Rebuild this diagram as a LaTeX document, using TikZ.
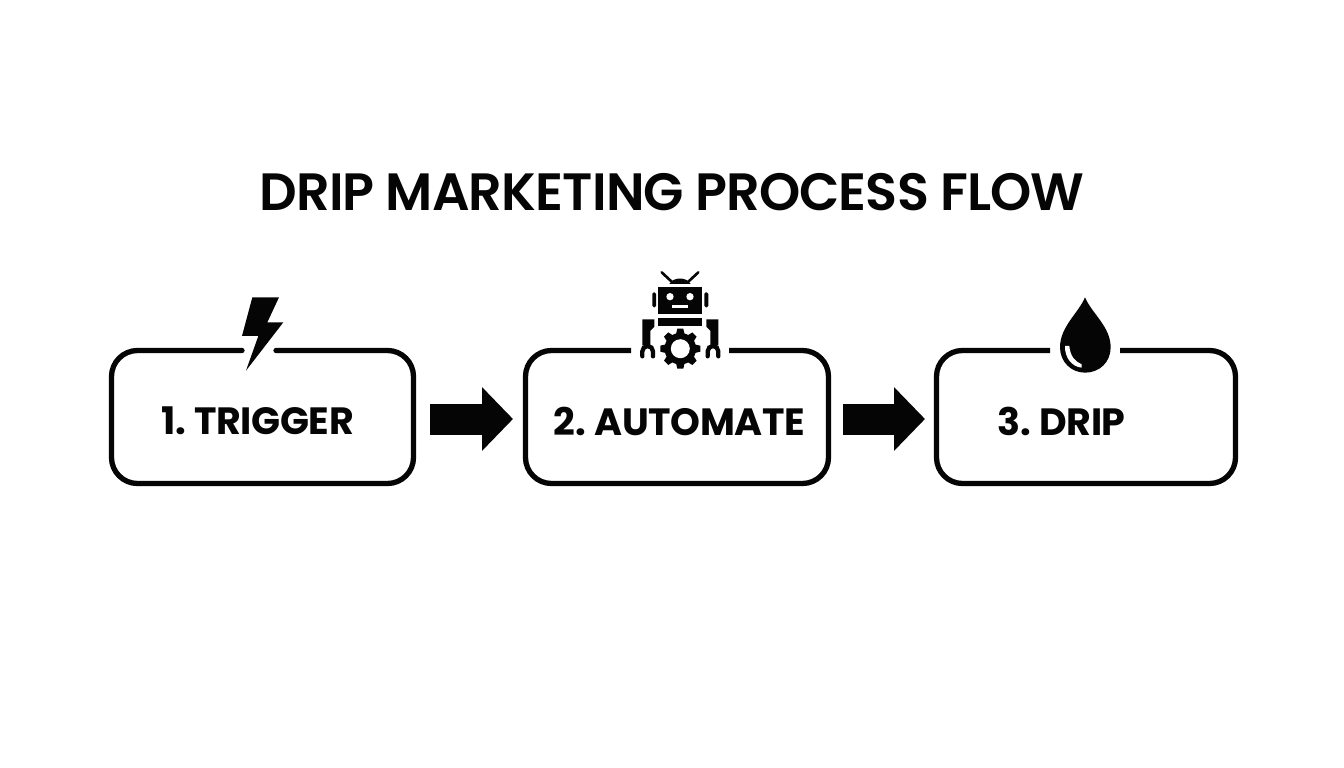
\documentclass[tikz,border=0pt]{standalone}
\usepackage{fontspec}
\setmainfont{Poppins}
\newfontfamily\titlefont{Poppins SemiBold}[LetterSpace=-1.6,WordSpace=0.95]
\newfontfamily\labelfont{Poppins Bold}[LetterSpace=-0.8,WordSpace=0.75]
\usetikzlibrary{arrows.meta}
\definecolor{ink}{HTML}{050505}
\newcommand{\robotarm}{%
  \fill[ic] (22,22)--(58,22)--(58,44)--(46,56)--(46,100)--(28,100)--(22,100)--cycle;
  \draw[ink,line width=4.3,line cap=round] (22,133) -- (22,118) arc[start angle=180,end angle=360,radius=16] -- (54,133);
}
\tikzset{
  frame/.style={draw=ink,line width=5.3,rounded corners=26,line join=round},
  boxnode/.style={minimum width=307,minimum height=138,inner sep=0,outer sep=0},
  label/.style={text=ink,font=\fontsize{38}{38}\selectfont\labelfont,inner sep=0,anchor=center},
  title/.style={text=ink,font=\fontsize{52.5}{54}\selectfont\titlefont,inner sep=0,anchor=center},
  flow/.style={draw=ink,line width=31,-{Triangle[length=31,width=62]}},
  ic/.style={fill=ink,draw=none},
  hole/.style={fill=white,draw=none},
}
\begin{document}
\begin{tikzpicture}[x=1pt,y=-1pt]
\useasboundingbox (0,0) rectangle (1344,768);
\fill[white] (0,0) rectangle (1344,768);
\node[title] (head) at (672,192) {DRIP MARKETING PROCESS FLOW};
% boxes
\node[boxnode] (b1) at (262.5,417) {};
\node[boxnode] (b2) at (677,417) {};
\node[boxnode,minimum width=304] (b3) at (1086,417) {};
\draw[frame,line cap=round] (276,350.5) -- (413.5,350.5) -- (413.5,483.5) -- (111.5,483.5) -- (111.5,350.5) -- (242,350.5);
\draw[frame] (729,350.5) -- (828.5,350.5) -- (828.5,483.5) -- (525.5,483.5) -- (525.5,350.5) -- (631,350.5);
\draw[frame] (1120,350.5) -- (1235.5,350.5) -- (1235.5,483.5) -- (936.5,483.5) -- (936.5,350.5) -- (1050,350.5);
% labels
\node[label] (t1) at (257.5,421) {1. TRIGGER};
\node[label] (t2) at (679.5,421) {2. AUTOMATE};
\node[label] (t3) at (1061.5,421) {3. DRIP};
% connectors
\coordinate (a1s) at (430,419);
\coordinate (a1e) at (513,419);
\coordinate (a2s) at (843,419);
\coordinate (a2e) at (925,419);
\draw[flow] (a1s) -- (a1e);
\draw[flow] (a2s) -- (a2e);
% bolt
\begin{scope}[shift={(210,285)},x=0.3333pt,y=-0.3333pt]
\fill[ic] (127,37)--(207,37)--(172,112)--(220,112)--(108,257)--(145,153)--(96,153)--cycle;
\end{scope}
% robot
\begin{scope}[shift={(620,260)},x=0.3333pt,y=-0.3333pt]
\draw[ink,line width=2.6,line cap=round] (125,37)--(155,65) (235,37)--(205,65);
\fill[ic] (148,72) .. controls (160,50) and (200,50) .. (212,72) -- cycle;
\fill[ic] (115,80) rectangle (245,163);
\fill[hole] (150,110) circle (11) (210,110) circle (11);
\fill[hole] (157,136) rectangle (203,145);
\fill[ic,rounded corners=1.5] (97,97) rectangle (108,142);
\fill[ic,rounded corners=1.5] (253,97) rectangle (265,142);
\fill[ic] (113,175) rectangle (247,198);
\end{scope}
% arms
\begin{scope}[shift={(635,312)},x=0.3333pt,y=-0.3333pt]
\robotarm
\begin{scope}[shift={(272,0)},xscale=-1]
\robotarm
\end{scope}
\end{scope}
% gear
\begin{scope}[shift={(680.3,348.7)}]
\foreach \a in {0,45,...,315}{
 \fill[ic,rotate=\a] (-4.4,-14)--(-3,-20)--(3,-20)--(4.4,-14)--cycle;
}
\fill[ic] (0,0) circle (15.8);
\fill[hole] (0,0) circle (9.5);
\end{scope}
% drop
\begin{scope}[shift={(1040,285)},x=0.3333pt,y=-0.3333pt]
\fill[ic] (135,37) .. controls (115,85) and (60,125) .. (60,187) .. controls (60,232) and (95,263) .. (135,263) .. controls (178,263) and (212,232) .. (212,187) .. controls (212,125) and (155,85) .. (135,37) -- cycle;
\fill[hole] (75,183) .. controls (74,218) and (95,245) .. (125,248) -- (125,238) .. controls (105,230) and (90,212) .. (88,183) -- cycle;
\end{scope}
\end{tikzpicture}
\end{document}
